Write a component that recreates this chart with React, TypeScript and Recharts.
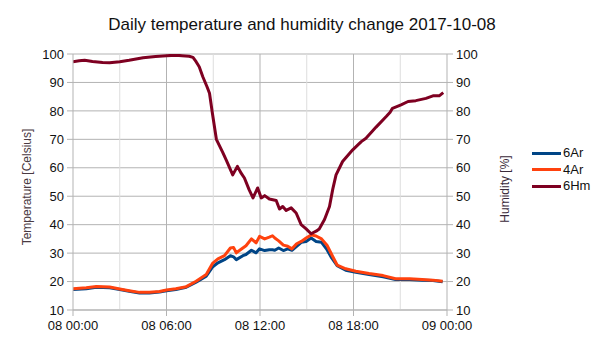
import React from 'react';
import { LineChart, Line, XAxis, YAxis, CartesianGrid, ReferenceLine } from 'recharts';

// Humidity 6Hm (hours since 08 00:00, %)
const hmTimes = [0, 0.4, 0.75, 1.25, 1.9, 2.35, 3.0, 3.6, 4.5, 5.3, 6.0, 6.6, 7.0, 7.45, 7.7, 7.9, 8.1, 8.33, 8.6, 8.76, 8.95, 9.2, 9.6, 9.85, 10.25, 10.55, 10.8, 11.0, 11.3, 11.55, 11.85, 12.08, 12.3, 12.6, 13.04, 13.25, 13.46, 13.68, 14.0, 14.32, 14.64, 14.96, 15.28, 15.6, 15.8, 16.14, 16.46, 16.67, 16.88, 17.3, 17.95, 18.5, 18.8, 19.45, 20.1, 20.35, 20.5, 21.05, 21.5, 22.0, 22.65, 23.1, 23.5, 23.76];
const hmValues = [97.3, 97.6, 97.8, 97.4, 97.0, 96.9, 97.3, 97.8, 98.7, 99.1, 99.4, 99.6, 99.4, 99.2, 98.8, 97.3, 95.5, 92.0, 88.5, 86.2, 79.0, 70.0, 65.5, 62.5, 57.5, 60.5, 58.0, 56.4, 52.3, 49.4, 52.9, 49.4, 50.2, 49.0, 48.5, 45.5, 46.4, 45.0, 45.9, 44.1, 40.0, 38.5, 36.8, 37.7, 38.5, 41.8, 46.4, 52.5, 57.5, 62.2, 66.3, 69.2, 70.4, 74.3, 78.0, 79.5, 80.9, 82.1, 83.3, 83.6, 84.4, 85.3, 85.3, 86.4];

// Temperatures 6Ar / 4Ar (hours since 08 00:00, Celsius)
const tempTimes = [0.0, 0.85, 1.5, 2.35, 3.0, 3.6, 4.27, 4.9, 5.55, 6.0, 6.6, 7.27, 7.9, 8.55, 8.97, 9.3, 9.72, 10.1, 10.3, 10.48, 10.9, 11.1, 11.45, 11.75, 11.97, 12.3, 12.6, 12.8, 12.95, 13.2, 13.5, 13.78, 14.05, 14.35, 14.65, 14.96, 15.28, 15.6, 15.95, 16.3, 16.6, 16.95, 17.5, 18.15, 19.0, 19.9, 20.7, 21.6, 22.4, 23.1, 23.72];
const t6Ar = [17.2, 17.5, 18.0, 17.8, 17.2, 16.6, 16.0, 16.0, 16.3, 16.8, 17.2, 18.0, 19.8, 21.9, 25.2, 26.6, 27.7, 29.1, 28.7, 27.7, 29.1, 29.5, 31.0, 30.1, 31.5, 30.9, 31.2, 31.2, 31.0, 31.8, 30.9, 31.5, 31.0, 32.4, 33.8, 34.1, 35.3, 34.1, 33.8, 31.2, 28.3, 25.6, 24.0, 23.3, 22.5, 21.7, 20.7, 20.7, 20.5, 20.4, 19.9];
const t4Ar = [17.5, 17.8, 18.3, 18.1, 17.4, 16.8, 16.2, 16.2, 16.5, 17.0, 17.5, 18.2, 20.1, 22.5, 26.5, 28.0, 29.1, 31.8, 32.0, 30.1, 31.8, 32.6, 35.0, 33.6, 35.9, 35.0, 35.6, 36.1, 35.3, 34.3, 32.8, 32.4, 31.5, 33.3, 34.1, 35.3, 36.4, 36.0, 35.0, 32.8, 29.5, 25.8, 24.5, 23.6, 22.8, 22.1, 21.0, 21.0, 20.7, 20.5, 20.1];

const xTicks = [0, 6, 12, 18, 24];
const xTickLabels = ['08 00:00', '08 06:00', '08 12:00', '08 18:00', '09 00:00'];
const yTicks = [10, 20, 30, 40, 50, 60, 70, 80, 90, 100];
const majorHours = [6, 12, 18];
const minorHours = [3, 9, 15, 21];
const seriesNames = ['6Ar', '4Ar', '6Hm'];
const seriesColors = ['#004586', '#ff420e', '#7e0021'];
const title = 'Daily temperature and humidity change 2017-10-08';
const leftTitle = 'Temperature [Celsius]';
const rightTitle = 'Humidity [%]';

const hmData = hmTimes.map((t, i) => ({ t, hm: hmValues[i] }));
const tempData = tempTimes.map((t, i) => ({ t, a6: t6Ar[i], a4: t4Ar[i] }));

const FONT = '"Liberation Sans", Arial, sans-serif';
const GRID = '#b3b3b3';
const MINOR = '#dddddd';

export default function App() {
  const tickStyle = { fontSize: 13, fill: '#111', fontFamily: FONT };
  return (
    <div style={{ position: 'absolute', left: 0, top: 0, width: 605, height: 340, background: '#fff', fontFamily: FONT }}>
      <LineChart width={605} height={340} margin={{ top: 54, right: 108, bottom: 0, left: 0 }} style={{ fontFamily: FONT }}>
        <CartesianGrid yAxisId="left" vertical={false} stroke={GRID} strokeDasharray="" />
        {minorHours.map((h) => (
          <ReferenceLine key={'mi' + h} x={h} yAxisId="left" stroke={MINOR} strokeWidth={1} ifOverflow="visible" />
        ))}
        {majorHours.map((h) => (
          <ReferenceLine key={'ma' + h} x={h} yAxisId="left" stroke={GRID} strokeWidth={1} ifOverflow="visible" />
        ))}
        <XAxis
          dataKey="t"
          type="number"
          domain={[0, 24]}
          ticks={xTicks}
          tickFormatter={(v: number) => xTickLabels[xTicks.indexOf(v)]}
          height={30}
          stroke={GRID}
          tickSize={6}
          tickMargin={5}
          tick={tickStyle}
          interval={0}
          allowDataOverflow
        />
        <YAxis
          yAxisId="left"
          orientation="left"
          domain={[10, 100]}
          ticks={yTicks}
          width={73}
          stroke={GRID}
          tickSize={6}
          tickMargin={3}
          tick={tickStyle}
          interval={0}
          allowDataOverflow
        />
        <YAxis
          yAxisId="right"
          orientation="right"
          domain={[10, 100]}
          ticks={yTicks}
          width={50}
          stroke={GRID}
          tickSize={6}
          tickMargin={3}
          tick={tickStyle}
          interval={0}
          allowDataOverflow
        />
        <Line yAxisId="left" data={tempData} dataKey="a6" name={seriesNames[0]} stroke={seriesColors[0]} strokeWidth={3} dot={false} type="linear" isAnimationActive={false} strokeLinejoin="round" />
        <Line yAxisId="left" data={tempData} dataKey="a4" name={seriesNames[1]} stroke={seriesColors[1]} strokeWidth={3} dot={false} type="linear" isAnimationActive={false} strokeLinejoin="round" />
        <Line yAxisId="right" data={hmData} dataKey="hm" name={seriesNames[2]} stroke={seriesColors[2]} strokeWidth={3} dot={false} type="linear" isAnimationActive={false} strokeLinejoin="round" />
      </LineChart>
      <svg width={605} height={340} style={{ position: 'absolute', left: 0, top: 0, pointerEvents: 'none' }}>
        <text x={302} y={30} textAnchor="middle" fontSize={17} fill="#111" fontFamily={FONT}>{title}</text>
        <text x={27} y={187} textAnchor="middle" dominantBaseline="central" fontSize={12} fill="#4a3a42" fontFamily={FONT} transform="rotate(-90 27 187)">{leftTitle}</text>
        <text x={505} y={189} textAnchor="middle" dominantBaseline="central" fontSize={12} fill="#3a2a3a" fontFamily={FONT} transform="rotate(-90 505 189)">{rightTitle}</text>
      </svg>
      {seriesNames.map((n, i) => (
        <div key={n} style={{ position: 'absolute', left: 532, top: 145 + i * 16.7, height: 16, display: 'flex', alignItems: 'center' }}>
          <div style={{ width: 29, height: 3, background: seriesColors[i] }} />
          <span style={{ marginLeft: 2, fontSize: 13, color: '#111', fontFamily: FONT, lineHeight: '16px' }}>{n}</span>
        </div>
      ))}
    </div>
  );
}
